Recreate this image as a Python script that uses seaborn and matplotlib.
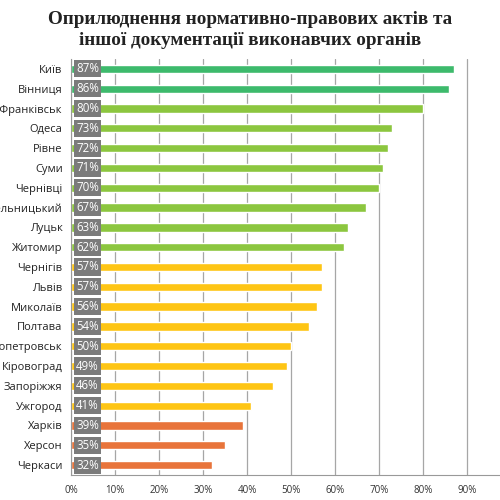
import numpy as np
import pandas as pd
import seaborn as sns
import matplotlib.pyplot as plt
from matplotlib.ticker import PercentFormatter, FixedLocator

cities = ["Київ", "Вінниця", "Івано-Франківськ", "Одеса", "Рівне", "Суми", "Чернівці",
          "Хмельницький", "Луцьк", "Житомир", "Чернігів", "Львів", "Миколаїв", "Полтава",
          "Дніпропетровськ", "Кіровоград", "Запоріжжя", "Ужгород", "Харків", "Херсон", "Черкаси"]
values = [87, 86, 80, 73, 72, 71, 70, 67, 63, 62, 57, 57, 56, 54, 50, 49, 46, 41, 39, 35, 32]
groups = ["top"] * 2 + ["high"] * 8 + ["mid"] * 8 + ["low"] * 3

group_colors = {"top": "#3dba6c", "high": "#8cc63f", "mid": "#fec514", "low": "#e8743b"}

df = pd.DataFrame({"city": cities, "value": np.array(values) / 100, "group": groups})

sns.set_style("white")
plt.rcParams['font.family'] = ['Open Sans', 'DejaVu Sans']

fig = plt.figure(figsize=(5, 5), dpi=100)
ax = fig.add_axes([0.142, 0.05, 0.858, 0.832])

sns.barplot(data=df, x="value", y="city", hue="group", palette=group_colors,
            dodge=False, legend=False, width=0.42, ax=ax, saturation=1)

for i, v in enumerate(values):
    ax.text(0.0375, i, f"{v}%", ha="center", va="center", color="white", fontsize=8.3,
            bbox=dict(boxstyle="square,pad=0.18", fc="#7b7b7b", ec="none"))

ax.set_xlim(0, 0.975)
ax.set_ylim(len(cities) - 0.5, -0.5)
ax.xaxis.set_major_locator(FixedLocator(np.arange(0, 0.95, 0.1)))
ax.xaxis.set_major_formatter(PercentFormatter(1.0, decimals=0))
ax.set_yticks(np.arange(len(cities)))
ax.set_yticklabels(cities)
ax.yaxis.set_minor_locator(FixedLocator(np.arange(-0.5, len(cities), 1)))
ax.tick_params(axis="y", which="major", length=0, pad=6, labelsize=8, colors="#222222")
ax.tick_params(axis="y", which="minor", length=4, color="#999999", width=0.8)
ax.tick_params(axis="x", length=4, color="#999999", width=0.8, labelsize=7, colors="#333333")
ax.tick_params(axis="x", labelcolor="#333333")
ax.grid(axis="x", color="#a6a6a6", linewidth=0.9)
ax.set_axisbelow(True)
for s in ["top", "right"]:
    ax.spines[s].set_visible(False)
for s in ["left", "bottom"]:
    ax.spines[s].set_color("#999999")
    ax.spines[s].set_linewidth(0.8)
ax.set_xlabel("")
ax.set_ylabel("")

fig.text(0.5, 0.978, "Оприлюднення нормативно-правових актів та\nіншої документації виконавчих органів",
         ha="center", va="top", fontsize=13.8, fontweight="bold", family="Liberation Serif",
         color="#222222", linespacing=1.3)

fig.savefig("out.png", dpi=100)
